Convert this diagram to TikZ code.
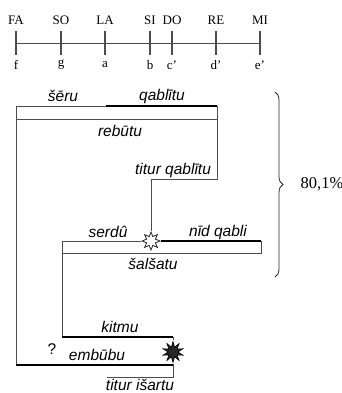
\documentclass[tikz,border=0pt]{standalone}
\usepackage{fontspec}
\setmainfont{Liberation Serif}
\newfontfamily\labelfont{Liberation Sans}
\usetikzlibrary{shapes.geometric,decorations.pathreplacing}

\begin{document}
\begin{tikzpicture}[x=1pt,y=-1pt,
	thinline/.style={draw=black!70,line width=0.7pt},
	thickline/.style={draw=black,line width=2.6pt},
	lbl/.style={font=\labelfont\itshape\fontsize{15.5}{15.5}\selectfont,inner sep=0pt},
	tone/.style={font=\fontsize{13}{13}\selectfont,inner sep=0pt}]
	\useasboundingbox (0,0) rectangle (342,393);
	% scale of tones
	\begin{scope}[every node/.style={tone}]
		\node (FA) at (16,20) {FA};
		\node (SO) at (61,20) {SO};
		\node (LA) at (105,20) {LA};
		\node (SI) at (150,20) {SI};
		\node (DO) at (172,20) {DO};
		\node (RE) at (216,20) {RE};
		\node (MI) at (260,20) {MI};
		\node (f) at (16,65) {f};
		\node (g) at (61,65) {g};
		\node (a) at (105,65) {a};
		\node (b) at (150,65) {b};
		\node (c) at (172,65) {c'};
		\node (d) at (216,65) {d'};
		\node (e) at (260,65) {e'};
	\end{scope}
	\draw[thinline] (16,43) -- (260,43);
	\draw[thinline,line width=1.1pt] (16,31) -- (16,55);
	\draw[thinline,line width=1.1pt] (61,31) -- (61,55);
	\draw[thinline,line width=1.1pt] (105,31) -- (105,55);
	\draw[thinline,line width=1.1pt] (150,31) -- (150,55);
	\draw[thinline,line width=1.1pt] (172,31) -- (172,55);
	\draw[thinline,line width=1.1pt] (216,31) -- (216,55);
	\draw[thinline,line width=1.1pt] (260,31) -- (260,55);
	% corners of the strings
	\coordinate (topL) at (16,106);
	\coordinate (topM) at (106,106);
	\coordinate (topR) at (217,106);
	\coordinate (rebL) at (16,119);
	\coordinate (rebR) at (217,119);
	\coordinate (bendR) at (217,179);
	\coordinate (bendL) at (151,179);
	\coordinate (salTL) at (62,241);
	\coordinate (salTR) at (261,241);
	\coordinate (salBL) at (62,253);
	\coordinate (salBR) at (261,253);
	\coordinate (kitL) at (62,337);
	\coordinate (kitR) at (173,337);
	\coordinate (embL) at (16,365);
	\coordinate (embR) at (173,365);
	\coordinate (isaR) at (173,377);
	\coordinate (isaL) at (107,377);
	% stars
	\node[star,star points=8,star point ratio=1.9,draw=black!85,fill=white,line width=0.8pt,minimum size=18pt,inner sep=0pt] (s1) at (151,241) {};
	\node[star,star points=10,star point ratio=2.1,draw=black,fill=black!85,line width=0.6pt,minimum size=21pt,inner sep=0pt] (s2) at (173,352) {};
	% strings
	\draw[thinline] (topL) -- (topM);
	\draw[thickline] (topM) -- (topR);
	\draw[thinline] (topR) -- (rebR);
	\draw[thinline] (rebL) -- (rebR);
	\draw[thinline] (topL) -- (embL);
	\draw[thinline] (rebR) -- (bendR) -- (bendL) -- (s1);
	\draw[thinline] (salTL) -- (s1);
	\draw[thickline] (s1) -- (salTR);
	\draw[thinline] (salTR) -- (salBR) -- (salBL);
	\draw[thinline] (salTL) -- (kitL);
	\draw[thickline] (kitL) -- (kitR);
	\draw[thinline] (kitR) -- (s2);
	\draw[thickline] (embL) -- (embR);
	\draw[thinline] (s2) -- (isaR) -- (isaL);
	% labels
	\begin{scope}[every node/.style={lbl}]
		\node (seru) at (63,96) {šēru};
		\node (qablitu) at (162,96) {qablītu};
		\node (rebutu) at (120,131) {rebūtu};
		\node (tqab) at (173,170) {titur qablītu};
		\node (serdu) at (108,232) {serdû};
		\node (nid) at (218,232) {nīd qabli};
		\node (salsatu) at (153,264) {šalšatu};
		\node (kitmu) at (120,327) {kitmu};
		\node[font=\labelfont\fontsize{15.5}{15.5}\selectfont] (quest) at (52,349) {?};
		\node (embubu) at (97,355) {embūbu};
		\node (tisa) at (140,385) {titur išartu};
	\end{scope}
	% brace
	\coordinate (brT) at (275,92);
	\coordinate (brB) at (275,277);
	\draw[black!85,line width=0.8pt,decorate,decoration={brace,amplitude=8pt}] (brT) -- (brB);
	\node[font=\fontsize{16.5}{16.5}\selectfont,inner sep=0pt] (perc) at (322,184) {80,1\%};
\end{tikzpicture}
\end{document}
